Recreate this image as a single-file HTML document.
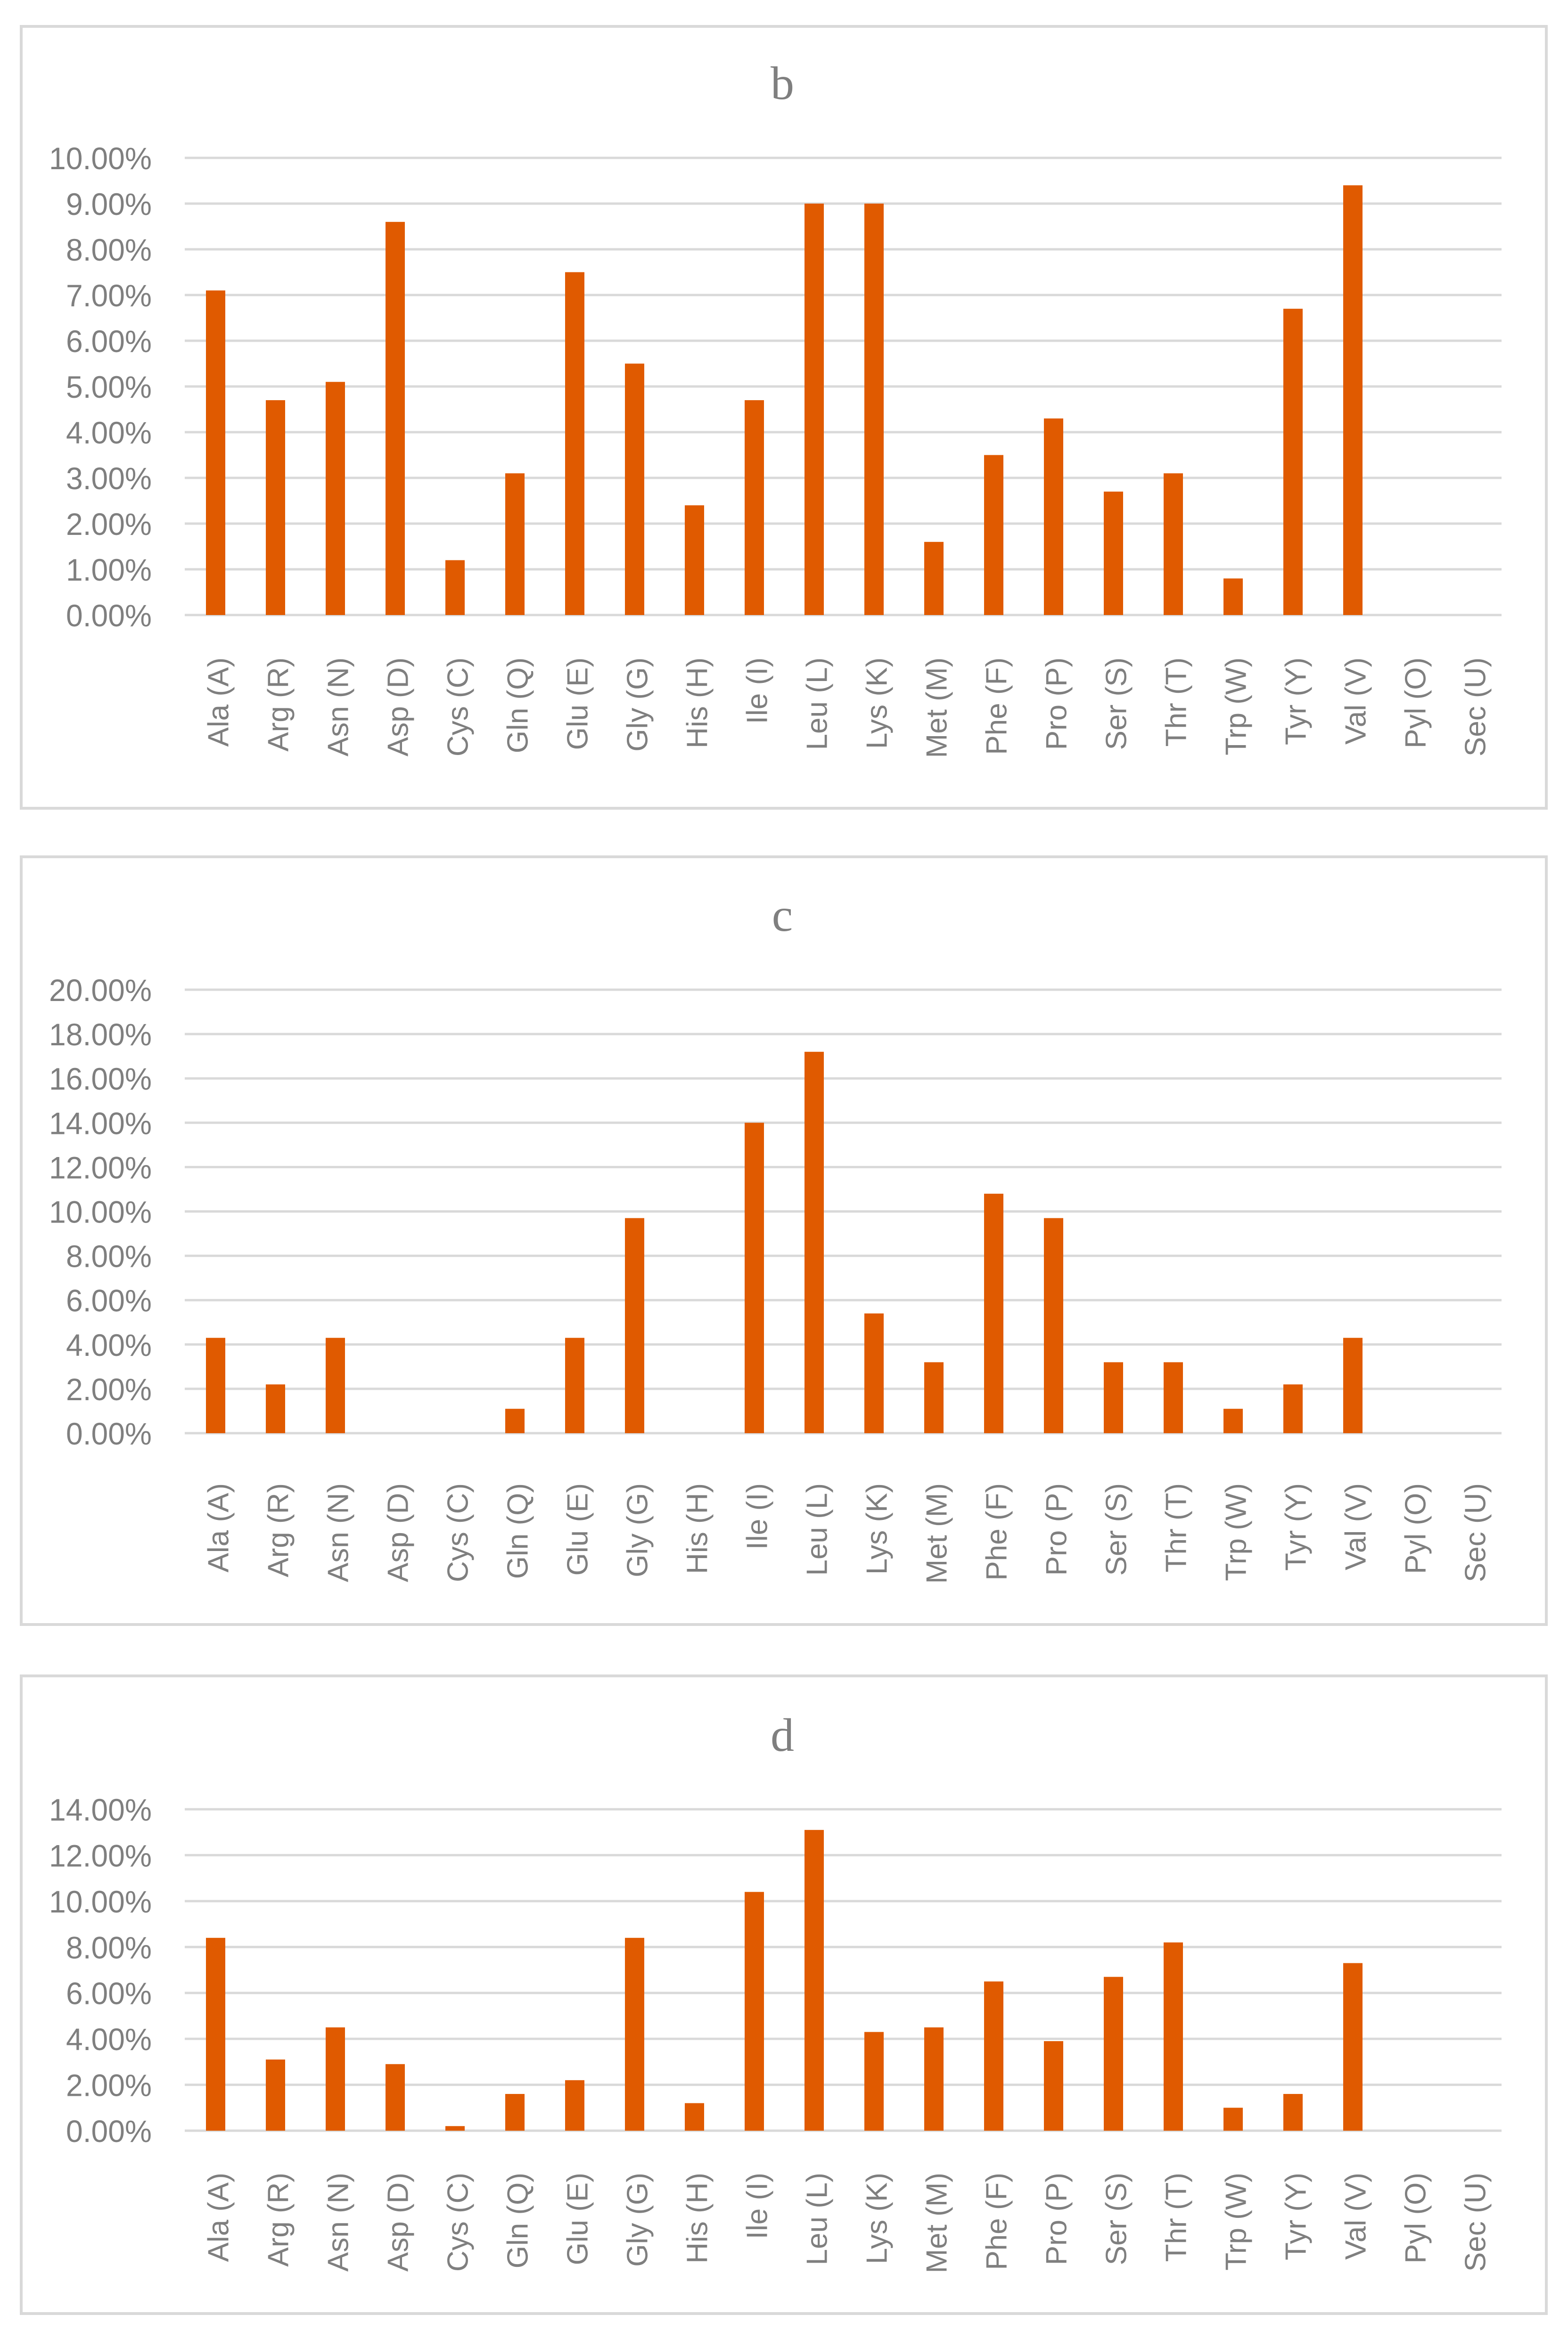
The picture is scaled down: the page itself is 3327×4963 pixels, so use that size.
<!DOCTYPE html>
<html><head><meta charset="utf-8"><style>
html,body{margin:0;padding:0;background:#fff;}
svg{display:block;}
</style></head><body>
<svg id="chart" xmlns="http://www.w3.org/2000/svg" width="3327" height="4963" viewBox="0 0 3327 4963"></svg>
<script>
const categories = ["Ala (A)","Arg (R)","Asn (N)","Asp (D)","Cys (C)","Gln (Q)","Glu (E)","Gly (G)","His (H)","Ile (I)","Leu (L)","Lys (K)","Met (M)","Phe (F)","Pro (P)","Ser (S)","Thr (T)","Trp (W)","Tyr (Y)","Val (V)","Pyl (O)","Sec (U)"];
const valuesB = [7.1,4.7,5.1,8.6,1.2,3.1,7.5,5.5,2.4,4.7,9.0,9.0,1.6,3.5,4.3,2.7,3.1,0.8,6.7,9.4,0,0];
const valuesC = [4.3,2.2,4.3,0,0,1.1,4.3,9.7,0,14.0,17.2,5.4,3.2,10.8,9.7,3.2,3.2,1.1,2.2,4.3,0,0];
const valuesD = [8.4,3.1,4.5,2.9,0.2,1.6,2.2,8.4,1.2,10.4,13.1,4.3,4.5,6.5,3.9,6.7,8.2,1.0,1.6,7.3,0,0];
const ticksB = [0,1,2,3,4,5,6,7,8,9,10];
const ticksC = [0,2,4,6,8,10,12,14,16,18,20];
const ticksD = [0,2,4,6,8,10,12,14];
const titles = ["b","c","d"];

const NS = "http://www.w3.org/2000/svg";
const svg = document.getElementById("chart");
function mk(tag, attrs, parent){
  const e = document.createElementNS(NS, tag);
  for (const k in attrs) e.setAttribute(k, attrs[k]);
  (parent||svg).appendChild(e);
  return e;
}
const panels = [
  {title:titles[0], vals:valuesB, ticks:ticksB, box:[45,56,3281,1715], y0:1305, yTop:335, titleY:210, labGap:90},
  {title:titles[1], vals:valuesC, ticks:ticksC, box:[45,1818,3281,3447], y0:3041, yTop:2100, titleY:1975, labGap:106},
  {title:titles[2], vals:valuesD, ticks:ticksD, box:[45,3556,3281,4909], y0:4521, yTop:3839, titleY:3715, labGap:89}
];
const plotL = 392, slot = 127, barW = 41;
panels.forEach((p, pi) => {
  const g = mk("g", {});
  
  
  const b = p.box;
  const border = mk("rect", {x:b[0], y:b[1], width:b[2]-b[0], height:b[3]-b[1], fill:"#fff", stroke:"#d9d9d9", "stroke-width":6}, g);
  
  
  const t = mk("text", {x:1660, y:p.titleY, "text-anchor":"middle", "font-family":"Liberation Serif, serif", "font-size":100, fill:"#7f7f7f"}, g);
  t.textContent = p.title;
  
  
  const maxT = p.ticks[p.ticks.length-1];
  const yScale = v => p.y0 - (v / maxT) * (p.y0 - p.yTop);
  const xScale = i => plotL + slot * i + slot / 2;
  p.ticks.forEach(tv => {
    const y = yScale(tv);
    const gl = mk("line", {x1:plotL, x2:plotL + slot*categories.length, y1:y, y2:y, stroke:"#d9d9d9", "stroke-width":5}, g);
    
    
    const label = tv.toFixed(2) + "%";
    const tl = mk("text", {x:322, y:y+24, "text-anchor":"end", "font-family":"Liberation Sans, sans-serif", "font-size":66, fill:"#7f7f7f", textLength: label.length===6?218:182, lengthAdjust:"spacingAndGlyphs"}, g);
    tl.textContent = label;
    
    
  });
  categories.forEach((c, i) => {
    const v = p.vals[i];
    const cx = xScale(i) + 2;
    if (v > 0) {
      const r = mk("rect", {x:cx - barW/2, y:yScale(v), width:barW, height:p.y0 - yScale(v), fill:"#e05a00"}, g);
      
      
    }
    const lx = cx + 27, ly = p.y0 + p.labGap;
    const xl = mk("text", {x:lx, y:ly, transform:`rotate(-90 ${lx} ${ly})`, "text-anchor":"end", "font-family":"Liberation Sans, sans-serif", "font-size":62, fill:"#7f7f7f"}, g);
    xl.textContent = c;
    
    
  });
});
</script>
</body></html>
